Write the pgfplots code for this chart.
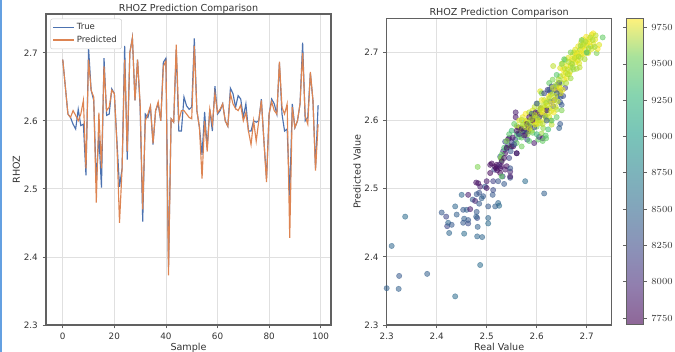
\documentclass[border=0pt]{standalone}
\usepackage{pgfplots}
\pgfplotsset{compat=1.18}
\usepackage{pgfplotstable}
\usepackage{fontspec}
\setmainfont{DejaVu Sans}
\definecolor{cTrue}{HTML}{4C72B0}
\definecolor{cPred}{HTML}{DD8452}
\definecolor{spine}{gray}{0.38}
\definecolor{gridc}{gray}{0.88}
\definecolor{txt}{gray}{0.2}
\pgfplotsset{colormap={viridisfade}{rgb255=(143,103,152) rgb255=(145,126,174) rgb255=(139,146,184) rgb255=(131,164,187) rgb255=(125,180,187) rgb255=(121,197,184) rgb255=(134,212,175) rgb255=(168,226,155) rgb255=(254,241,124)}}

\pgfplotstableread{
i T P
0 2.690 2.690
1 2.650 2.650
2 2.610 2.610
3 2.605 2.605
4 2.595 2.615
5 2.588 2.608
6 2.617 2.600
7 2.593 2.610
8 2.595 2.630
9 2.520 2.530
10 2.707 2.690
11 2.645 2.645
12 2.630 2.635
13 2.510 2.480
14 2.580 2.612
15 2.502 2.530
16 2.692 2.680
17 2.608 2.615
18 2.610 2.620
19 2.647 2.645
20 2.640 2.640
21 2.570 2.565
22 2.503 2.450
23 2.530 2.530
24 2.710 2.690
25 2.543 2.555
26 2.700 2.700
27 2.722 2.722
28 2.630 2.630
29 2.690 2.690
30 2.620 2.625
31 2.452 2.470
32 2.610 2.600
33 2.605 2.610
34 2.620 2.622
35 2.565 2.567
36 2.615 2.615
37 2.625 2.628
38 2.600 2.600
39 2.686 2.680
40 2.692 2.688
41 2.385 2.373
42 2.603 2.603
43 2.598 2.598
44 2.705 2.712
45 2.585 2.600
46 2.585 2.615
47 2.635 2.615
48 2.622 2.610
49 2.617 2.605
50 2.620 2.603
51 2.721 2.710
52 2.615 2.615
53 2.590 2.590
54 2.550 2.515
55 2.613 2.600
56 2.560 2.555
57 2.617 2.617
58 2.585 2.595
59 2.651 2.640
60 2.610 2.612
61 2.615 2.617
62 2.625 2.625
63 2.600 2.600
64 2.592 2.592
65 2.648 2.640
66 2.640 2.625
67 2.620 2.618
68 2.637 2.615
69 2.632 2.623
70 2.605 2.600
71 2.625 2.612
72 2.585 2.585
73 2.585 2.565
74 2.600 2.600
75 2.598 2.570
76 2.600 2.600
77 2.632 2.630
78 2.570 2.570
79 2.515 2.510
80 2.610 2.610
81 2.632 2.628
82 2.625 2.615
83 2.610 2.610
84 2.685 2.687
85 2.610 2.620
86 2.585 2.610
87 2.588 2.625
88 2.490 2.428
89 2.625 2.620
90 2.590 2.590
91 2.600 2.600
92 2.625 2.625
93 2.715 2.700
94 2.600 2.607
95 2.605 2.595
96 2.670 2.672
97 2.630 2.630
98 2.530 2.527
99 2.623 2.595
}\linedata

\pgfplotstableread{
r p d
2.300 2.354 8350
2.310 2.416 8400
2.325 2.372 8300
2.324 2.353 8350
2.337 2.459 8450
2.381 2.375 8350
2.437 2.342 8450
2.487 2.388 8450
2.410 2.465 8300
2.419 2.459 8150
2.421 2.445 8150
2.423 2.450 8400
2.430 2.447 8300
2.425 2.435 8400
2.437 2.474 8400
2.440 2.462 8350
2.450 2.491 8400
2.453 2.469 8300
2.455 2.456 8350
2.453 2.450 8300
2.455 2.434 8450
2.460 2.469 8350
2.463 2.449 8200
2.463 2.454 8300
2.463 2.491 7850
2.467 2.470 7850
2.472 2.484 8300
2.477 2.482 7900
2.479 2.509 7800
2.480 2.492 8300
2.480 2.466 8300
2.481 2.457 8200
2.479 2.459 8350
2.482 2.444 8350
2.481 2.430 8400
2.485 2.478 8300
2.485 2.494 8250
2.487 2.503 7900
2.483 2.508 7800
2.491 2.429 8400
2.493 2.489 8300
2.490 2.486 8350
2.497 2.503 8300
2.500 2.511 7850
2.500 2.501 7800
2.503 2.449 8450
2.503 2.474 8300
2.503 2.457 8400
2.507 2.523 7750
2.507 2.535 7800
2.510 2.537 7750
2.512 2.491 8300
2.513 2.498 8200
2.513 2.511 8100
2.515 2.528 8150
2.517 2.532 7750
2.519 2.530 7750
2.520 2.535 7750
2.521 2.527 7800
2.523 2.511 8250
2.523 2.479 8400
2.525 2.475 8450
2.517 2.474 8350
2.527 2.523 7750
2.527 2.530 7800
2.529 2.533 7800
2.532 2.518 8150
2.535 2.507 8300
2.537 2.528 7850
2.540 2.533 7800
2.547 2.525 7900
2.547 2.530 8250
2.547 2.516 8250
2.547 2.518 7850
2.530 2.518 9300
2.482 2.532 9400
2.577 2.511 8450
2.615 2.493 8350
2.527 2.547 8300
2.530 2.542 9200
2.533 2.555 8100
2.537 2.552 7800
2.537 2.569 8250
2.540 2.559 8400
2.543 2.564 8200
2.543 2.573 7850
2.545 2.574 7850
2.548 2.562 9300
2.550 2.568 8100
2.550 2.562 7800
2.553 2.562 7800
2.557 2.572 8250
2.558 2.605 7800
2.558 2.612 7850
2.560 2.567 9300
2.560 2.552 8200
2.560 2.552 7750
2.563 2.581 8100
2.563 2.590 7800
2.565 2.576 9200
2.567 2.590 9500
2.570 2.601 9400
2.570 2.562 9350
2.573 2.584 7800
2.577 2.579 7750
2.579 2.599 9600
2.580 2.586 7750
2.581 2.572 8200
2.583 2.584 7800
2.583 2.592 7750
2.587 2.591 8000
2.590 2.596 9500
2.590 2.608 9600
2.592 2.582 9300
2.593 2.603 7900
2.593 2.607 7800
2.595 2.567 7850
2.600 2.591 9400
2.601 2.611 7900
2.603 2.572 9300
2.605 2.576 8100
2.607 2.596 9600
2.607 2.609 8200
2.608 2.618 8000
2.610 2.581 9500
2.612 2.608 9700
2.612 2.574 7850
2.613 2.589 9450
2.615 2.630 9600
2.617 2.601 9750
2.617 2.607 8150
2.619 2.574 9300
2.620 2.616 8150
2.622 2.645 8050
2.623 2.587 9200
2.625 2.606 9700
2.627 2.628 8250
2.627 2.642 8100
2.628 2.638 9800
2.630 2.594 9600
2.632 2.660 9400
2.633 2.621 8200
2.635 2.630 8100
2.637 2.645 7900
2.639 2.650 8250
2.640 2.616 9500
2.642 2.635 8300
2.643 2.655 9650
2.647 2.665 9500
2.647 2.643 8150
2.647 2.627 8250
2.647 2.595 8300
2.648 2.635 8300
2.650 2.623 8300
2.645 2.589 8350
2.653 2.636 8200
2.657 2.648 8100
2.653 2.667 9700
2.633 2.680 9600
2.647 2.677 9700
2.652 2.684 9650
2.653 2.675 9800
2.657 2.689 9400
2.660 2.680 9750
2.663 2.692 9700
2.667 2.672 9600
2.669 2.684 9800
2.672 2.697 9750
2.673 2.689 9500
2.677 2.704 9700
2.679 2.693 9800
2.681 2.699 9650
2.683 2.709 9750
2.685 2.684 9700
2.687 2.704 9450
2.689 2.715 9750
2.690 2.697 9800
2.692 2.709 9600
2.693 2.719 9750
2.697 2.704 9700
2.699 2.723 9800
2.701 2.714 9700
2.703 2.699 9650
2.705 2.719 9800
2.708 2.709 9500
2.710 2.726 9700
2.713 2.728 9800
2.720 2.699 9400
2.725 2.711 9700
2.732 2.722 9300
2.717 2.719 9750
2.560 2.592 9600
2.565 2.600 9700
2.568 2.585 9500
2.572 2.605 9750
2.575 2.595 9650
2.578 2.610 9800
2.580 2.600 9700
2.582 2.580 9450
2.585 2.612 9600
2.587 2.600 9750
2.590 2.585 9500
2.592 2.615 9700
2.594 2.598 9800
2.596 2.620 9600
2.598 2.605 9700
2.600 2.595 9750
2.602 2.625 9500
2.604 2.610 9800
2.606 2.600 9650
2.608 2.618 9700
2.610 2.630 9750
2.612 2.595 9600
2.614 2.612 9800
2.616 2.620 9700
2.618 2.605 9500
2.620 2.628 9750
2.622 2.610 9650
2.624 2.635 9800
2.626 2.618 9600
2.628 2.600 9700
2.630 2.625 9750
2.632 2.640 9500
2.634 2.612 9800
2.636 2.630 9700
2.638 2.620 9650
2.640 2.645 9750
2.642 2.628 9600
2.645 2.650 9800
2.648 2.640 9700
2.650 2.655 9500
2.652 2.645 9750
2.655 2.660 9650
2.658 2.670 9700
2.660 2.662 9800
2.662 2.675 9600
2.665 2.668 9750
2.668 2.680 9700
2.670 2.690 9800
2.672 2.678 9500
2.675 2.700 9650
2.678 2.685 9750
2.680 2.695 9800
2.682 2.688 9700
2.685 2.700 9750
2.688 2.692 9600
2.690 2.705 9800
2.695 2.698 9700
2.700 2.710 9750
2.702 2.700 9650
2.706 2.715 9800
2.710 2.705 9700
2.714 2.712 9750
2.718 2.725 9600
2.722 2.705 9800
2.650 2.683 9450
2.607 2.643 9700
2.560 2.580 9200
2.570 2.575 9300
2.585 2.570 9250
2.600 2.580 9150
2.612 2.570 9300
2.618 2.578 9250
2.630 2.600 9200
2.640 2.605 9300
2.650 2.615 9400
2.610 2.640 9350
2.625 2.655 9300
2.640 2.667 9250
2.655 2.690 9300
2.668 2.700 9400
2.690 2.718 9350
2.700 2.700 9200
2.545 2.580 9250
2.555 2.595 9300
2.540 2.570 9400
2.535 2.560 9200
2.530 2.550 9300
2.528 2.545 9450
2.550 2.585 9150
2.600 2.625 8250
2.615 2.640 8150
2.625 2.645 8300
2.630 2.650 8100
2.645 2.655 8200
2.640 2.640 8300
2.590 2.610 8350
2.595 2.590 8200
2.605 2.605 8050
2.620 2.600 8350
2.575 2.585 8300
2.565 2.580 8100
2.555 2.565 8250
2.548 2.555 8300
2.545 2.545 8150
2.580 2.595 7750
2.585 2.605 7800
2.592 2.600 7750
2.598 2.612 7850
2.560 2.585 7800
2.570 2.588 7750
2.575 2.578 7900
2.552 2.575 7850
2.540 2.560 7750
2.535 2.545 7800
2.530 2.540 7750
2.525 2.535 7900
2.620 2.615 7900
2.664 2.686 9550
2.671 2.683 9500
2.676 2.692 9600
2.684 2.694 9550
2.688 2.710 9500
2.694 2.712 9600
2.698 2.716 9550
2.704 2.706 9500
2.707 2.722 9600
2.712 2.718 9550
2.716 2.708 9500
2.696 2.690 9550
2.686 2.678 9600
2.674 2.675 9500
2.662 2.668 9550
2.656 2.676 9600
2.644 2.660 9550
2.638 2.652 9500
2.632 2.648 9600
2.626 2.633 9550
2.619 2.626 9500
2.613 2.622 9600
2.606 2.616 9550
2.601 2.603 9500
2.596 2.608 9600
2.589 2.602 9550
2.584 2.596 9500
2.578 2.590 9600
2.572 2.594 9550
2.586 2.588 9650
2.597 2.594 9700
2.603 2.600 9650
2.611 2.615 9700
2.621 2.622 9650
2.629 2.614 9700
2.637 2.636 9650
2.646 2.648 9700
2.659 2.655 9550
2.668 2.662 9500
2.680 2.676 9550
}\scatdata

\pgfplotsset{
  mystyle/.style={
    scale only axis,
    axis line style={spine, line width=0.8pt},
    grid=major,
    major grid style={gridc, line width=0.6pt},
    tick style={spine, line width=0.6pt},
    tick align=outside,
    major tick length=2.6pt,
    xtick pos=bottom, ytick pos=left,
    tick label style={font=\fontsize{6.6}{7}\selectfont, text=txt},
    label style={font=\fontsize{7.2}{8}\selectfont, text=txt},
    title style={font=\fontsize{7.2}{8}\selectfont, text=txt, yshift=-9pt},
    /pgf/number format/assume math mode=true,
    /pgf/number format/1000 sep={},
  }
}

\begin{document}
\begin{tikzpicture}
\useasboundingbox (0,0) rectangle (506.25pt,264pt);
\fill[color={rgb,255:red,100;green,160;blue,225}] (0,0) rectangle (1.6pt,264pt);

\begin{axis}[mystyle,
  at={(34.5pt,20.25pt)}, anchor=south west,
  width=213.75pt, height=233.25pt,
  xmin=-6.5, xmax=104, ymin=2.3, ymax=2.757,
  xtick={0,20,40,60,80,100},
  ytick={2.3,2.4,2.5,2.6,2.7},
  yticklabel style={/pgf/number format/.cd, fixed, fixed zerofill, precision=1},
  title={RHOZ Prediction Comparison},
  xlabel={Sample}, ylabel={RHOZ},
  xlabel style={yshift=4pt}, ylabel style={yshift=-4pt},
  legend style={at={(0.015,0.985)}, anchor=north west, draw=black!18, rounded corners=1.5pt,
    font=\fontsize{6.4}{7.5}\selectfont, text=txt, inner sep=1.5pt, row sep=-1pt},
  legend cell align=left,
  legend image post style={xscale=0.9},
]
\addplot[cTrue, line width=0.85pt] table[x=i, y=T] {\linedata};
\addlegendentry{True}
\addplot[cPred, line width=0.85pt] table[x=i, y=P] {\linedata};
\addlegendentry{Predicted}
\end{axis}

\begin{axis}[mystyle,
  at={(290pt,20.25pt)}, anchor=south west,
  width=168.75pt, height=230pt,
  xmin=2.3, xmax=2.75, ymin=2.3, ymax=2.75,
  xtick={2.3,2.4,2.5,2.6,2.7},
  ytick={2.3,2.4,2.5,2.6,2.7},
  xticklabel style={/pgf/number format/.cd, fixed, fixed zerofill, precision=1},
  yticklabel style={/pgf/number format/.cd, fixed, fixed zerofill, precision=1},
  title={RHOZ Prediction Comparison},
  xlabel={Real Value}, ylabel={Predicted Value},
  xlabel style={yshift=4pt}, ylabel style={yshift=-4pt},
  colormap/viridis,
  point meta min=7707, point meta max=9814,
  colorbar,
  colorbar style={
    colormap name=viridisfade,
    scale only axis,
    at={(parent axis.north east)}, anchor=north west, xshift=2.4pt,
    width=12.75pt, height=229.5pt,
    ytick={7750,8000,8250,8500,8750,9000,9250,9500,9750},
    yticklabel style={font=\fontsize{6.6}{7}\selectfont, text=txt,
      /pgf/number format/.cd, fixed, 1000 sep={}},
    axis line style={spine, line width=0.8pt},
    tick style={spine, line width=0.6pt},
    major tick length=2.6pt,
    tick align=outside,
    ylabel={DEPTH},
    ylabel style={font=\fontsize{7.2}{8}\selectfont, text=txt, rotate=180, yshift=-4pt},
  },
]
\addplot[scatter, only marks, mark=*, mark size=2pt,
  point meta=explicit,
  scatter/use mapped color={draw=mapped color, fill=mapped color},
  fill opacity=0.55, draw opacity=0.55]
  table[x=r, y=p, meta=d] {\scatdata};
\end{axis}
\end{tikzpicture}
\end{document}
